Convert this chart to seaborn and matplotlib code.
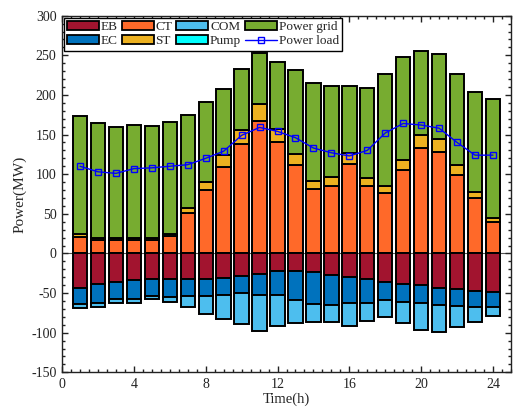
import numpy as np
import pandas as pd
import matplotlib
matplotlib.use("Agg")
import matplotlib.pyplot as plt
import seaborn as sns
from matplotlib.patches import Patch
from matplotlib.lines import Line2D
from matplotlib.ticker import MultipleLocator

hours = list(range(1, 25))
# positive side (MW)
CT = [21, 17, 17, 17, 17, 21.5, 51, 80, 109, 138, 167, 140, 111, 81, 85, 113, 85, 76, 105, 133, 128, 99, 70, 40]
ST = [3, 2, 2, 2, 2, 3, 6, 10, 15, 18, 22, 17, 14, 11, 11, 14, 10, 9, 13, 17, 17, 13, 8, 5]
grid = [149, 145, 140, 143, 142, 141.5, 118, 101, 83, 77, 64, 85, 106, 123, 115, 84, 114, 142, 130, 105, 106, 115, 126, 150]
# negative side (MW)
EB = [-43, -39, -36, -33, -32, -32, -32, -32, -31, -28, -26, -22, -22, -24, -27, -30, -32, -36, -38, -40, -43, -45, -47, -49]
EC = [-21, -23, -22, -24, -22, -23, -22, -22, -22, -22, -26, -31, -37, -40, -38, -32, -30, -23, -23, -23, -22, -21, -20, -19]
COM = [-5, -5, -5, -5, -4, -6, -14, -22, -30, -39, -46, -39, -29, -22, -22, -30, -23, -21, -27, -34, -34, -27, -20, -11]
Pump = [0] * 24
load = [110, 103, 101, 107, 108, 110, 112, 120, 129, 149, 159, 154, 146, 133, 127, 123, 130, 152, 164, 162, 158, 140, 124, 124]

colors = {
    "EB": "#A2142F", "EC": "#0072BD", "CT": "#FF6929", "ST": "#EDB120",
    "COM": "#4DBEEE", "Pump": "#00FFFF", "Power grid": "#77AC30",
}

sns.set_theme(style="ticks")
plt.rcParams["font.family"] = ["Liberation Serif", "DejaVu Serif"]
plt.rcParams["axes.unicode_minus"] = False

fig = plt.figure(figsize=(5.13, 4.09), dpi=100)
ax = fig.add_axes([0.121, 0.0897, 0.875, 0.872])

x = np.array(hours)
w = 0.8
ekw = dict(edgecolor="black", linewidth=1.4, width=w)

ax.axhline(0, color="#555555", lw=0.8, zorder=0.5)

pos_bottom = np.zeros(24)
for name, vals in [("CT", CT), ("ST", ST), ("Power grid", grid)]:
    v = np.array(vals, float)
    ax.bar(x, v, bottom=pos_bottom, color=colors[name], zorder=2, **ekw)
    pos_bottom += v
neg_bottom = np.zeros(24)
for name, vals in [("EB", EB), ("EC", EC), ("COM", COM), ("Pump", Pump)]:
    v = np.array(vals, float)
    if np.any(v != 0):
        ax.bar(x, v, bottom=neg_bottom, color=colors[name], zorder=2, **ekw)
    neg_bottom += v

df = pd.DataFrame({"hour": hours, "load": load})
sns.lineplot(data=df, x="hour", y="load", ax=ax, color="#0000FF", lw=1.0,
             marker="s", markersize=4.5, markerfacecolor="none",
             markeredgecolor="#0000FF", markeredgewidth=1.0, zorder=3)

ax.set_xlim(0, 25)
ax.set_ylim(-150, 300)
ax.xaxis.set_minor_locator(MultipleLocator(0.5))
ax.yaxis.set_major_locator(MultipleLocator(50))
ax.yaxis.set_minor_locator(MultipleLocator(10))
ax.set_xticks([0, 4, 8, 12, 16, 20, 24])
ax.tick_params(which="both", direction="in", top=True, right=True, labelsize=10, width=1, colors="#222222", pad=4)
ax.tick_params(which="major", length=4)
ax.tick_params(which="minor", length=2)
for s in ax.spines.values():
    s.set_linewidth(1.0)
    s.set_color("#222222")
ax.set_xlabel("Time(h)", fontsize=10.5, labelpad=1)
ax.set_ylabel("Power(MW)", fontsize=11, labelpad=3)

handles = [
    Patch(facecolor=colors["EB"], edgecolor="black", lw=1.3, label="EB"),
    Patch(facecolor=colors["EC"], edgecolor="black", lw=1.3, label="EC"),
    Patch(facecolor=colors["CT"], edgecolor="black", lw=1.3, label="CT"),
    Patch(facecolor=colors["ST"], edgecolor="black", lw=1.3, label="ST"),
    Patch(facecolor=colors["COM"], edgecolor="black", lw=1.3, label="COM"),
    Patch(facecolor=colors["Pump"], edgecolor="black", lw=1.3, label="Pump"),
    Patch(facecolor=colors["Power grid"], edgecolor="black", lw=1.3, label="Power grid"),
    Line2D([0], [0], color="#0000FF", lw=1.0, marker="s", markersize=4.5,
           markerfacecolor="none", markeredgecolor="#0000FF", label="Power load"),
]
leg = ax.legend(handles=handles, ncol=4, loc="upper left", fontsize=9.5,
                frameon=True, fancybox=False, edgecolor="black",
                borderaxespad=0.15, handlelength=2.4, handleheight=0.7,
                handletextpad=0.15, columnspacing=0.3, labelspacing=0.15,
                borderpad=0.25)
leg.get_frame().set_linewidth(1.0)
leg.get_frame().set_alpha(1)
leg.set_zorder(10)

fig.savefig("out.png", dpi=100)
